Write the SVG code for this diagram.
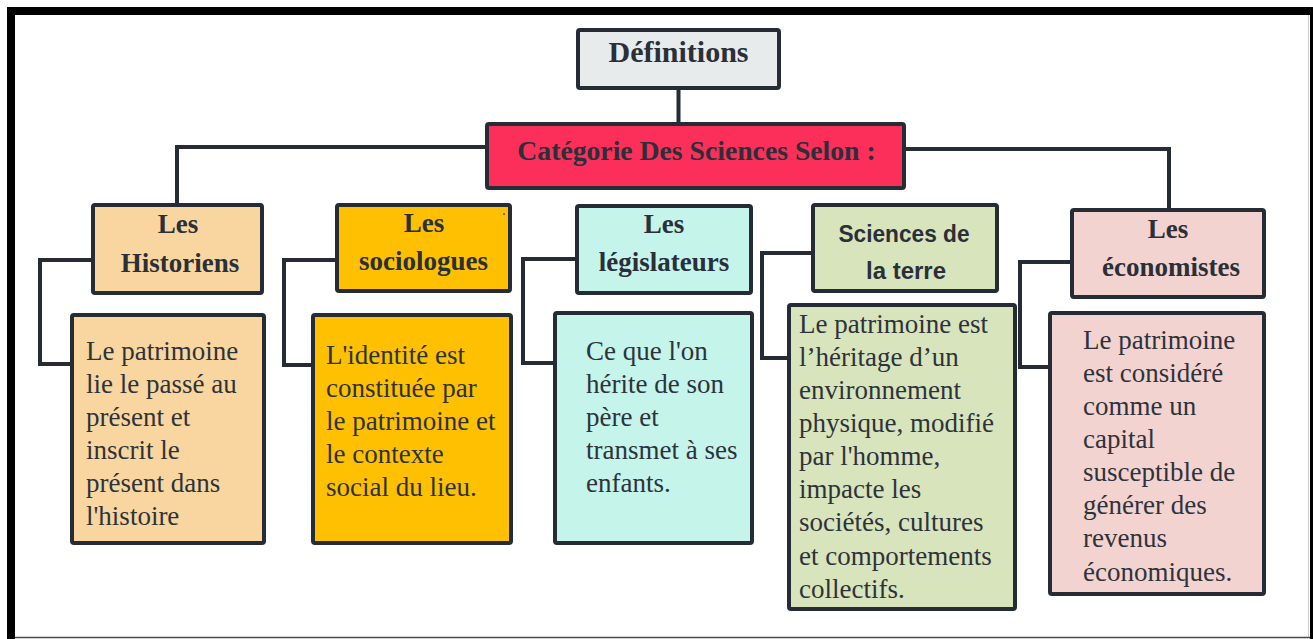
<svg xmlns="http://www.w3.org/2000/svg" width="1313" height="639" viewBox="0 0 1313 639">
<style>
.box{stroke:#262c36;stroke-width:4;}
.conn{fill:none;stroke:#262c36;stroke-width:4;stroke-linejoin:miter;}
.hd{font-family:"Liberation Serif","Times New Roman",serif;font-weight:bold;font-size:27px;fill:#2a2f38;text-anchor:middle;}
.hs{font-family:"Liberation Sans",Arial,sans-serif;font-weight:bold;font-size:24px;fill:#2a2f38;text-anchor:middle;}
.ds{font-family:"Liberation Serif","Times New Roman",serif;font-size:27px;fill:#2e323a;}
</style>
<rect x="0" y="0" width="1313" height="639" fill="#ffffff"/>
<g id="frame">
<rect x="7" y="7" width="1306" height="8" fill="#000000"/>
<rect x="7" y="7" width="8" height="632" fill="#000000"/>
<rect x="1310" y="7" width="3" height="632" fill="#000000"/>
<line x1="1308.5" y1="15" x2="1308.5" y2="637" stroke="#cfcfcf" stroke-width="1"/>
<line x1="15" y1="637.5" x2="1310" y2="637.5" stroke="#4a4a4a" stroke-width="1.5"/>
</g>
<g id="connectors">
<path class="conn" d="M678.5 88 V124"/>
<path class="conn" d="M487 147 H177 V205"/>
<path class="conn" d="M904 149 H1169 V210"/>
<path class="conn" d="M93 260 H40 V364 H72"/>
<path class="conn" d="M337 260 H284 V365 H313"/>
<path class="conn" d="M577 259 H523 V363 H555"/>
<path class="conn" d="M813 253 H762 V358 H789"/>
<path class="conn" d="M1072 262 H1020 V367 H1050"/>
</g>
<g id="definitions">
<rect class="box" x="578" y="30" width="201" height="58" rx="2" fill="#e8ebec"/>
<text class="hd" x="678.5" y="62" style="font-size:30px">Définitions</text>
</g>
<g id="categorie">
<rect class="box" x="487" y="124" width="417" height="64" rx="2" fill="#fc2f5b"/>
<text class="hd" x="696.5" y="160" style="font-size:27.7px">Catégorie Des Sciences Selon :</text>
</g>
<g id="historiens">
<rect class="box" x="93" y="205" width="169" height="88" rx="2" fill="#f9d6a0"/>
<text class="hd" x="178" y="233">Les</text>
<text class="hd" x="180" y="272">Historiens</text>
</g>
<g id="sociologues">
<rect class="box" x="337" y="205" width="173" height="86" rx="2" fill="#fec001"/>
<circle cx="504" cy="214" r="1" fill="#5a4fb0"/>
<text class="hd" x="424" y="232">Les</text>
<text class="hd" x="423.5" y="270">sociologues</text>
</g>
<g id="legislateurs">
<rect class="box" x="577" y="206" width="174" height="87" rx="2" fill="#c4f4ea"/>
<text class="hd" x="664" y="233">Les</text>
<text class="hd" x="664" y="271">législateurs</text>
</g>
<g id="sciences-terre">
<rect class="box" x="813" y="205" width="184" height="86" rx="2" fill="#d8e4bc"/>
<text class="hs" x="904" y="242" textLength="131" lengthAdjust="spacingAndGlyphs">Sciences de</text>
<text class="hs" x="906" y="279">la terre</text>
</g>
<g id="economistes">
<rect class="box" x="1072" y="210" width="192" height="87" rx="2" fill="#f3d3d0"/>
<text class="hd" x="1168" y="238">Les</text>
<text class="hd" x="1171" y="276">économistes</text>
</g>
<g id="historiens-def">
<rect class="box" x="72" y="315" width="192" height="228" rx="2" fill="#f9d6a0"/>
<text class="ds" x="86" y="360">Le patrimoine</text>
<text class="ds" x="86" y="393">lie le passé au</text>
<text class="ds" x="86" y="426">présent et</text>
<text class="ds" x="86" y="459">inscrit le</text>
<text class="ds" x="86" y="492">présent dans</text>
<text class="ds" x="86" y="525">l'histoire</text>
</g>
<g id="sociologues-def">
<rect class="box" x="313" y="315" width="198" height="228" rx="2" fill="#fec001"/>
<text class="ds" x="326" y="364">L'identité est</text>
<text class="ds" x="326" y="397">constituée par</text>
<text class="ds" x="326" y="430">le patrimoine et</text>
<text class="ds" x="326" y="463">le contexte</text>
<text class="ds" x="326" y="496">social du lieu.</text>
</g>
<g id="legislateurs-def">
<rect class="box" x="555" y="313" width="197" height="230" rx="2" fill="#c4f4ea"/>
<text class="ds" x="586" y="360">Ce que l'on</text>
<text class="ds" x="586" y="393">hérite de son</text>
<text class="ds" x="586" y="426">père et</text>
<text class="ds" x="586" y="459">transmet à ses</text>
<text class="ds" x="586" y="492">enfants.</text>
</g>
<g id="sciences-terre-def">
<rect class="box" x="789" y="305" width="226" height="304" rx="2" fill="#d8e4bc"/>
<text class="ds" x="799" y="333">Le patrimoine est</text>
<text class="ds" x="799" y="366">l’héritage d’un</text>
<text class="ds" x="799" y="399">environnement</text>
<text class="ds" x="799" y="432">physique, modifié</text>
<text class="ds" x="799" y="465">par l'homme,</text>
<text class="ds" x="799" y="498">impacte les</text>
<text class="ds" x="799" y="531">sociétés, cultures</text>
<text class="ds" x="799" y="565">et comportements</text>
<text class="ds" x="799" y="598">collectifs.</text>
</g>
<g id="economistes-def">
<rect class="box" x="1050" y="313" width="214" height="281" rx="2" fill="#f3d3d0"/>
<text class="ds" x="1083" y="349">Le patrimoine</text>
<text class="ds" x="1083" y="382">est considéré</text>
<text class="ds" x="1083" y="415">comme un</text>
<text class="ds" x="1083" y="448">capital</text>
<text class="ds" x="1083" y="481">susceptible de</text>
<text class="ds" x="1083" y="514">générer des</text>
<text class="ds" x="1083" y="547">revenus</text>
<text class="ds" x="1083" y="581">économiques.</text>
</g>
</svg>
